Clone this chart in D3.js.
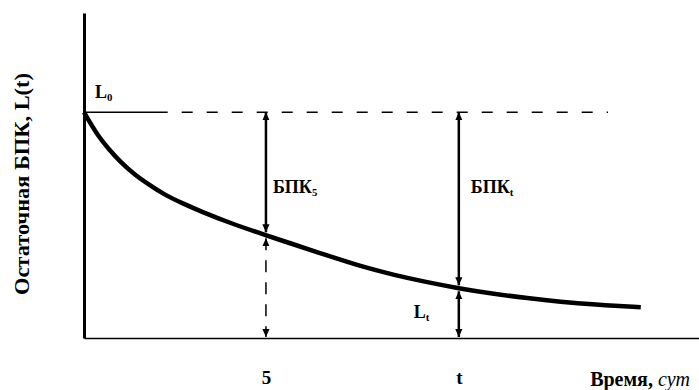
<!DOCTYPE html>
<html>
<head>
<meta charset="utf-8">
<script src="https://cdn.jsdelivr.net/npm/d3@7/dist/d3.min.js"></script>
<style>
  body { margin: 0; background: #fff; }
  svg { display: block; }
  text { font-family: "Liberation Serif", "Times New Roman", serif; font-weight: bold; fill: #000; }
</style>
</head>
<body>
<script>
// remaining BOD curve (time in days, L relative to L0)
var timeDays  = [0, 0.2, 0.4, 0.7, 1.0, 1.4, 1.8, 2.2, 2.7, 3.2, 4.0, 5.0, 5.7, 6.7, 7.6, 8.5, 9.4, 10.3, 11.2, 12.2, 13.1, 14.0, 15.3];
var bodRemain = [1, 0.945, 0.893, 0.833, 0.78, 0.722, 0.678, 0.636, 0.597, 0.562, 0.51, 0.455, 0.418, 0.365, 0.318, 0.28, 0.248, 0.22, 0.197, 0.176, 0.16, 0.148, 0.136];

// marked moments on the time axis
var markTimes  = [5, 10.3];
var markLabels = ["5", "t"];
var L0 = 1;
var refLineEnd = 14.4;   // where the dashed L0 line stops
var refSolidEnd = 2.3;   // solid part of the L0 line

var width = 699, height = 390;

var x = d3.scaleLinear().domain([0, 16.9]).range([84, 699]);
var y = d3.scaleLinear().domain([0, 1.44]).range([338, 13]);

var svg = d3.select("body").append("svg")
    .attr("width", width)
    .attr("height", height);

// arrow head
svg.append("defs").append("marker")
    .attr("id", "head")
    .attr("viewBox", "0 -5 10 10")
    .attr("refX", 10)
    .attr("refY", 0)
    .attr("markerUnits", "userSpaceOnUse")
    .attr("markerWidth", 8)
    .attr("markerHeight", 8)
    .attr("orient", "auto-start-reverse")
  .append("path")
    .attr("d", "M0,-4.5L10,0L0,4.5Z")
    .attr("fill", "#000");

// axes
var xAxis = d3.axisBottom(x)
    .tickValues(markTimes)
    .tickFormat(function(d, i) { return markLabels[i]; })
    .tickSize(0)
    .tickPadding(33);

var gx = svg.append("g")
    .attr("transform", "translate(0," + y(0) + ")")
    .call(xAxis);
gx.select(".domain").attr("stroke", "#000").attr("stroke-width", 1.6);
gx.selectAll("text")
    .style("font-size", "19px")
    .style("font-family", "Liberation Serif")
    .style("font-weight", "bold");

var gy = svg.append("g")
    .attr("transform", "translate(" + x(0) + ",0)")
    .call(d3.axisLeft(y).tickValues([]).tickSizeOuter(0));
gy.select(".domain").attr("stroke", "#000").attr("stroke-width", 3);

// L0 reference line
svg.append("line")
    .attr("x1", x(0)).attr("x2", x(refSolidEnd))
    .attr("y1", y(L0)).attr("y2", y(L0))
    .attr("stroke", "#000").attr("stroke-width", 1.5);
svg.append("line")
    .attr("x1", x(refSolidEnd) + 14).attr("x2", x(refLineEnd))
    .attr("y1", y(L0)).attr("y2", y(L0))
    .attr("stroke", "#000").attr("stroke-width", 1.5)
    .attr("stroke-dasharray", "11,14");

// curve
var data = timeDays.map(function(t, i) { return {t: t, L: bodRemain[i]}; });
var line = d3.line()
    .x(function(d) { return x(d.t); })
    .y(function(d) { return y(d.L); })
    .curve(d3.curveBasis);

svg.append("path")
    .datum(data)
    .attr("fill", "none")
    .attr("stroke", "#000")
    .attr("stroke-width", 4.5)
    .attr("d", line);

// arrows at marked moments
markTimes.forEach(function(t, i) {
    var L = bodRemain[timeDays.indexOf(t)];
    var cx = x(t), cy = y(L);
    // consumed BOD: from L0 down to the curve
    svg.append("line")
        .attr("x1", cx).attr("x2", cx)
        .attr("y1", y(L0)).attr("y2", cy - 3)
        .attr("stroke", "#000").attr("stroke-width", 2.5)
        .attr("marker-start", "url(#head)")
        .attr("marker-end", "url(#head)");
    // remaining BOD: from the curve down to the axis
    svg.append("line")
        .attr("x1", cx).attr("x2", cx)
        .attr("y1", cy + 3).attr("y2", y(0) - 1)
        .attr("stroke", "#000").attr("stroke-width", i === 0 ? 1.5 : 2.5)
        .attr("stroke-dasharray", i === 0 ? "12,10" : null)
        .attr("marker-start", "url(#head)")
        .attr("marker-end", "url(#head)");
});

// labels
function subLabel(xp, yp, main, sub, size) {
    var t = svg.append("text")
        .attr("x", xp).attr("y", yp)
        .style("font-size", size + "px");
    t.append("tspan").text(main);
    t.append("tspan")
        .attr("dy", 3)
        .style("font-size", (size * 0.6) + "px")
        .text(sub);
}

subLabel(x(0) + 11, y(L0) - 14, "L", "0", 18);
subLabel(x(markTimes[0]) + 7, 193, "БПК", "5", 18);
subLabel(x(markTimes[1]) + 12, 193, "БПК", "t", 18);
subLabel(x(markTimes[1]) - 45, 318, "L", "t", 18);

// axis titles
svg.append("text")
    .attr("transform", "translate(29,184) rotate(-90)")
    .attr("text-anchor", "middle")
    .attr("textLength", 222)
    .attr("lengthAdjust", "spacingAndGlyphs")
    .style("font-size", "21px")
    .text("Остаточная БПК,  L(t)");

var xt = svg.append("text")
    .attr("x", 690).attr("y", 386)
    .attr("text-anchor", "end")
    .style("font-size", "20px");
xt.append("tspan").text("Время, ");
xt.append("tspan")
    .style("font-style", "italic")
    .style("font-weight", "normal")
    .text("сут");
</script>
</body>
</html>
